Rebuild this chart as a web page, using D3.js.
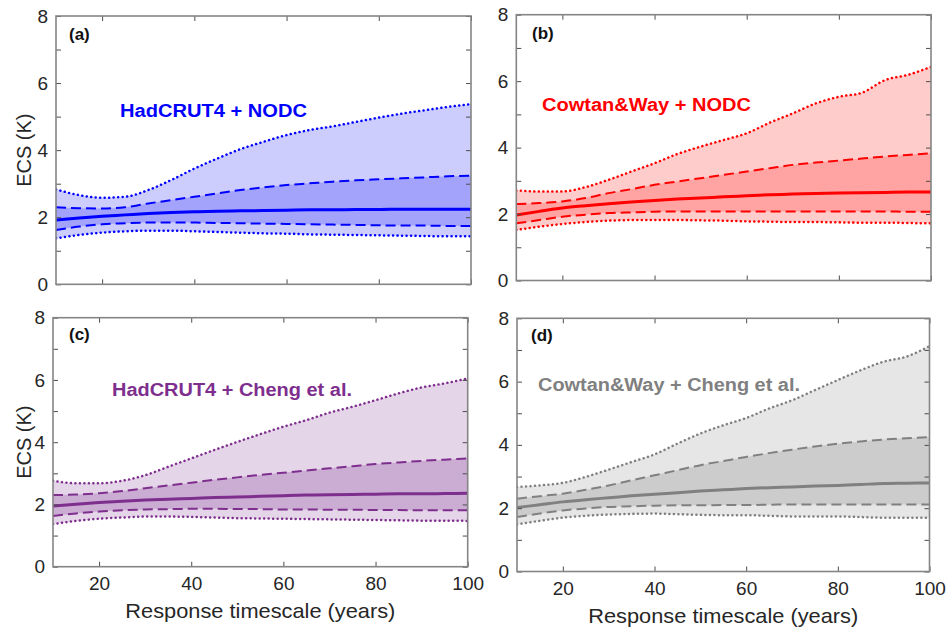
<!DOCTYPE html>
<html>
<head>
<meta charset="utf-8">
<script src="https://cdn.jsdelivr.net/npm/d3@7"></script>
<style>
  html, body { margin: 0; padding: 0; background: #fff; }
  svg { display: block; }
  text { font-family: "Liberation Sans", Arial, Helvetica, sans-serif; }
</style>
</head>
<body>
<svg id="chart" width="947" height="630"></svg>
<script>
// ---------------- DATA ----------------
const timescale = [10, 15, 20, 25, 30, 35, 40, 45, 50, 55, 60, 65, 70, 75, 80, 85, 90, 95, 100];
const yTicks = [0, 1, 2, 3, 4, 5, 6, 7, 8];
const xTicks = [20, 40, 60, 80, 100];

// (a) HadCRUT4 + NODC
const a_p95 = [2.83, 2.66, 2.58, 2.61, 2.81, 3.11, 3.45, 3.75, 4.03, 4.25, 4.45, 4.60, 4.71, 4.84, 4.97, 5.09, 5.19, 5.29, 5.37];
const a_p75 = [2.30, 2.27, 2.26, 2.30, 2.41, 2.51, 2.61, 2.71, 2.81, 2.89, 2.96, 3.01, 3.06, 3.10, 3.13, 3.16, 3.19, 3.22, 3.24];
const a_p50 = [1.92, 1.98, 2.03, 2.07, 2.11, 2.14, 2.16, 2.18, 2.19, 2.20, 2.21, 2.22, 2.22, 2.23, 2.23, 2.24, 2.24, 2.24, 2.24];
const a_p25 = [1.62, 1.72, 1.79, 1.82, 1.84, 1.84, 1.84, 1.83, 1.82, 1.81, 1.80, 1.79, 1.78, 1.77, 1.76, 1.75, 1.75, 1.74, 1.74];
const a_p05 = [1.37, 1.47, 1.54, 1.58, 1.60, 1.60, 1.58, 1.56, 1.54, 1.52, 1.51, 1.49, 1.48, 1.47, 1.46, 1.45, 1.44, 1.43, 1.43];

// (b) Cowtan&Way + NODC
const b_p95 = [2.71, 2.68, 2.68, 2.81, 3.03, 3.28, 3.53, 3.81, 4.03, 4.23, 4.43, 4.75, 5.03, 5.33, 5.53, 5.65, 6.03, 6.19, 6.43];
const b_p75 = [2.30, 2.33, 2.38, 2.48, 2.63, 2.75, 2.88, 2.98, 3.08, 3.18, 3.28, 3.38, 3.48, 3.55, 3.61, 3.67, 3.73, 3.78, 3.83];
const b_p50 = [1.97, 2.08, 2.18, 2.25, 2.31, 2.36, 2.41, 2.45, 2.48, 2.52, 2.55, 2.58, 2.60, 2.62, 2.63, 2.64, 2.65, 2.66, 2.66];
const b_p25 = [1.72, 1.82, 1.92, 1.98, 2.03, 2.05, 2.07, 2.08, 2.08, 2.08, 2.08, 2.08, 2.08, 2.08, 2.08, 2.08, 2.08, 2.07, 2.07];
const b_p05 = [1.52, 1.62, 1.70, 1.76, 1.80, 1.82, 1.82, 1.82, 1.81, 1.80, 1.78, 1.77, 1.76, 1.76, 1.75, 1.74, 1.74, 1.73, 1.72];

// (c) HadCRUT4 + Cheng et al.
const c_p95 = [2.76, 2.68, 2.68, 2.76, 2.94, 3.21, 3.48, 3.75, 4.01, 4.26, 4.50, 4.71, 4.95, 5.14, 5.35, 5.57, 5.76, 5.89, 6.05];
const c_p75 = [2.30, 2.32, 2.36, 2.43, 2.52, 2.61, 2.70, 2.79, 2.87, 2.95, 3.02, 3.09, 3.16, 3.23, 3.30, 3.35, 3.40, 3.44, 3.48];
const c_p50 = [1.95, 2.01, 2.06, 2.10, 2.14, 2.17, 2.19, 2.22, 2.24, 2.26, 2.28, 2.30, 2.31, 2.32, 2.33, 2.34, 2.34, 2.35, 2.36];
const c_p25 = [1.63, 1.71, 1.77, 1.81, 1.84, 1.85, 1.86, 1.86, 1.85, 1.85, 1.84, 1.84, 1.83, 1.83, 1.82, 1.82, 1.81, 1.81, 1.81];
const c_p05 = [1.37, 1.47, 1.54, 1.58, 1.61, 1.61, 1.60, 1.58, 1.56, 1.55, 1.54, 1.53, 1.52, 1.51, 1.50, 1.49, 1.48, 1.48, 1.47];

// (d) Cowtan&Way + Cheng et al.
const d_p95 = [2.67, 2.72, 2.80, 2.99, 3.22, 3.46, 3.70, 4.04, 4.36, 4.62, 4.85, 5.15, 5.41, 5.73, 6.05, 6.36, 6.63, 6.79, 7.12];
const d_p75 = [2.30, 2.38, 2.46, 2.58, 2.72, 2.88, 3.04, 3.20, 3.36, 3.49, 3.62, 3.74, 3.85, 3.95, 4.04, 4.11, 4.17, 4.21, 4.25];
const d_p50 = [2.02, 2.11, 2.20, 2.27, 2.33, 2.39, 2.44, 2.49, 2.54, 2.58, 2.62, 2.65, 2.67, 2.70, 2.72, 2.75, 2.78, 2.79, 2.80];
const d_p25 = [1.72, 1.83, 1.93, 1.99, 2.04, 2.06, 2.08, 2.09, 2.09, 2.10, 2.10, 2.11, 2.12, 2.12, 2.12, 2.12, 2.12, 2.12, 2.12];
const d_p05 = [1.49, 1.60, 1.70, 1.76, 1.80, 1.82, 1.83, 1.81, 1.79, 1.78, 1.78, 1.76, 1.74, 1.74, 1.74, 1.72, 1.70, 1.70, 1.70];

const panelLetters = ["(a)", "(b)", "(c)", "(d)"];
const seriesNames = ["HadCRUT4 + NODC", "Cowtan&Way + NODC", "HadCRUT4 + Cheng et al.", "Cowtan&Way + Cheng et al."];
const yLabel = "ECS (K)";
const xLabel = "Response timescale (years)";

// ---------------- LAYOUT / STYLE ----------------
const panels = [
  { box: [56, 16, 471, 284.3], line: "#0000ff", outer: "#ccccfd", inner: "#a3a3fb",
    data: [a_p05, a_p25, a_p50, a_p75, a_p95], xlab: false, ylab: true,
    letterPos: [69, 39.5], namePos: [120, 117, 187] },
  { box: [516.3, 14.7, 931, 280.5], line: "#ff0000", outer: "#ffcccc", inner: "#ffa3a3",
    data: [b_p05, b_p25, b_p50, b_p75, b_p95], xlab: false, ylab: false,
    letterPos: [532, 38.5], namePos: [542, 110.5, 209] },
  { box: [53, 317.7, 467.7, 566.7], line: "#7e2f8e", outer: "#e5d5e8", inner: "#cbacd2",
    data: [c_p05, c_p25, c_p50, c_p75, c_p95], xlab: true, ylab: true,
    letterPos: [69, 340], namePos: [112, 395.5, 240] },
  { box: [517, 318.3, 929.5, 571.5], line: "#808080", outer: "#e6e6e6", inner: "#cccccc",
    data: [d_p05, d_p25, d_p50, d_p75, d_p95], xlab: true, ylab: false,
    letterPos: [531, 340.5], namePos: [538, 391, 262] }
];

const svg = d3.select("#chart");
const frameColor = "#858585";
const tickColor = "#4d4d4d";
const labelColor = "#262626";

panels.forEach((p, i) => {
  const [x0, y0, x1, y1] = p.box;
  const x = d3.scaleLinear().domain([10, 100]).range([x0, x1]);
  const y = d3.scaleLinear().domain([0, 8]).range([y1, y0]);
  const g = svg.append("g");

  const [p05, p25, p50, p75, p95] = p.data;
  const rows = timescale.map((t, k) => ({ t, p05: p05[k], p25: p25[k], p50: p50[k], p75: p75[k], p95: p95[k] }));
  const curve = d3.curveMonotoneX;

  const clipId = "clip" + i;
  svg.append("clipPath").attr("id", clipId).append("rect")
    .attr("x", x0).attr("y", y0).attr("width", x1 - x0).attr("height", y1 - y0);
  const plot = g.append("g").attr("clip-path", `url(#${clipId})`);

  plot.append("path").datum(rows)
    .attr("d", d3.area().x(d => x(d.t)).y0(d => y(d.p05)).y1(d => y(d.p95)).curve(curve))
    .attr("fill", p.outer);
  plot.append("path").datum(rows)
    .attr("d", d3.area().x(d => x(d.t)).y0(d => y(d.p25)).y1(d => y(d.p75)).curve(curve))
    .attr("fill", p.inner);

  const lineFor = key => d3.line().x(d => x(d.t)).y(d => y(d[key])).curve(curve);
  ["p05", "p95"].forEach(k => {
    plot.append("path").datum(rows).attr("d", lineFor(k))
      .attr("fill", "none").attr("stroke", p.line).attr("stroke-width", 2.5)
      .attr("stroke-linecap", "round").attr("stroke-dasharray", "0.1 4.4");
  });
  ["p25", "p75"].forEach(k => {
    plot.append("path").datum(rows).attr("d", lineFor(k))
      .attr("fill", "none").attr("stroke", p.line).attr("stroke-width", 2)
      .attr("stroke-dasharray", "10 5");
  });
  plot.append("path").datum(rows).attr("d", lineFor("p50"))
    .attr("fill", "none").attr("stroke", p.line).attr("stroke-width", 3);

  // Axes (inward ticks on all four sides)
  const styleAxis = sel => {
    sel.select(".domain").remove();
    sel.selectAll(".tick line").attr("stroke", tickColor).attr("stroke-width", 1);
    sel.selectAll(".tick text").attr("fill", labelColor)
      .style("font-family", "'Liberation Sans', Arial, sans-serif").style("font-size", "19px");
  };
  g.append("g").attr("transform", `translate(${x0},0)`)
    .call(d3.axisLeft(y).tickValues(yTicks).tickSize(-5).tickPadding(8)
      .tickFormat(d => d % 2 === 0 ? d : ""))
    .call(styleAxis);
  g.append("g").attr("transform", `translate(${x1},0)`)
    .call(d3.axisRight(y).tickValues(yTicks).tickSize(-5).tickFormat(""))
    .call(styleAxis);
  g.append("g").attr("transform", `translate(0,${y1})`)
    .call(d3.axisBottom(x).tickValues(xTicks).tickSize(-5).tickPadding(10)
      .tickFormat(d => p.xlab ? d : ""))
    .call(styleAxis);
  g.append("g").attr("transform", `translate(0,${y0})`)
    .call(d3.axisTop(x).tickValues(xTicks).tickSize(-5).tickFormat(""))
    .call(styleAxis);

  // Frame
  g.append("rect").attr("x", x0).attr("y", y0).attr("width", x1 - x0).attr("height", y1 - y0)
    .attr("fill", "none").attr("stroke", frameColor).attr("stroke-width", 1.6);

  // Panel letter
  g.append("text").attr("x", p.letterPos[0]).attr("y", p.letterPos[1])
    .attr("font-size", 17).attr("font-weight", "bold").attr("fill", "#111")
    .text(panelLetters[i]);

  // Series name
  g.append("text").attr("x", p.namePos[0]).attr("y", p.namePos[1])
    .attr("font-size", 18).attr("font-weight", "bold").attr("fill", p.line)
    .attr("textLength", p.namePos[2]).attr("lengthAdjust", "spacingAndGlyphs")
    .text(seriesNames[i]);

  if (p.ylab) {
    const cy = (y0 + y1) / 2;
    g.append("text").attr("transform", `translate(31,${cy}) rotate(-90)`)
      .attr("text-anchor", "middle").attr("font-size", 20).attr("fill", labelColor)
      .text(yLabel);
  }
  if (p.xlab) {
    g.append("text").attr("x", (x0 + x1) / 2).attr("y", y1 + 51.5)
      .attr("text-anchor", "middle").attr("font-size", 21).attr("fill", labelColor)
      .attr("textLength", 270).attr("lengthAdjust", "spacingAndGlyphs")
      .text(xLabel);
  }
});
</script>
</body>
</html>
